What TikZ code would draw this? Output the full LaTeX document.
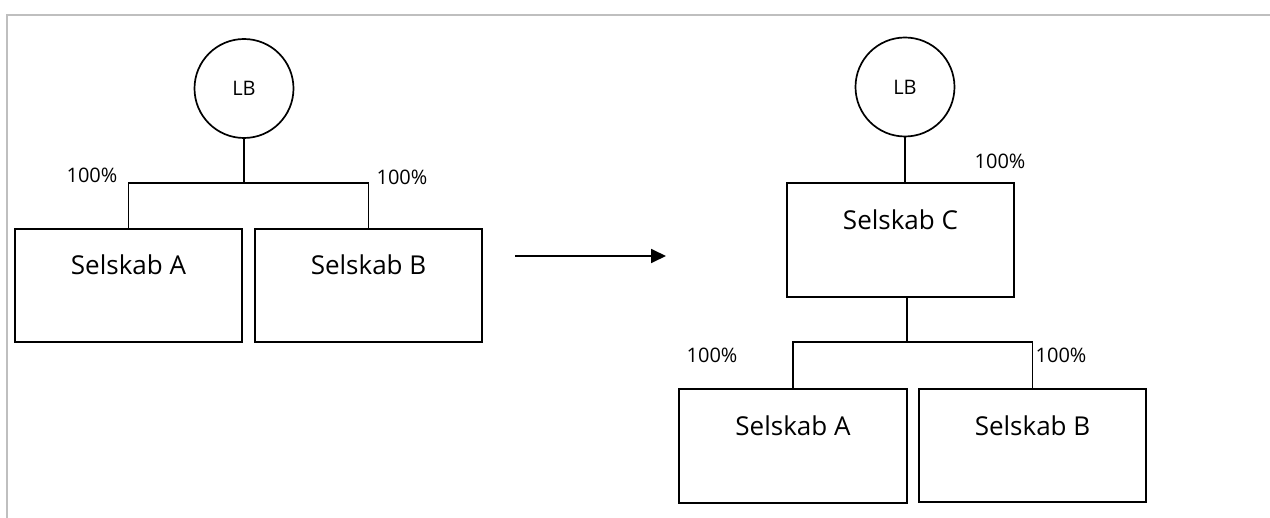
\documentclass[tikz,border=0pt]{standalone}
\usepackage{fontspec}
\setmainfont{Open Sans}
\usetikzlibrary{arrows.meta,calc}
\tikzset{
  frame/.style={draw=black!25, line width=2pt},
  owner/.style={draw, circle, line width=1.7pt, minimum size=99pt, inner sep=0pt,
                font=\fontsize{20}{24}\selectfont},
  company/.style={draw, rectangle, line width=1.8pt, minimum width=227pt,
                  minimum height=113pt, inner sep=0pt},
  cname/.style={anchor=base, font=\fontsize{26}{30}\selectfont, inner sep=0pt},
  share/.style={anchor=base, font=\fontsize{20}{24}\selectfont, inner sep=0pt},
  link/.style={line width=1.7pt},
  move/.style={line width=1.8pt, -{Triangle[length=15pt,width=14pt]}}
}
\begin{document}
\begin{tikzpicture}[x=1pt,y=-1pt]
\useasboundingbox (0,0) rectangle (1270,518);
% page frame
\draw[frame] (7,518) -- (7,15) -- (1270,15);

% --- before: LB owns A and B directly ---
\node[owner] (lb1) at (244,88.5) {LB};
\node[company] (a1) at (128.5,285.5) {};
\node[company] (b1) at (368.5,285.5) {};
\node[cname] (ta1) at ($(a1.north)+(0,46)$) {Selskab A};
\node[cname] (tb1) at ($(b1.north)+(0,46)$) {Selskab B};
\coordinate (bus1) at (244,183);
\draw[link] (lb1.south) -- (bus1);
\draw[link] (a1.north) |- (bus1) -| (b1.north);
\node[share] (p1) at (92,183) {100\%};
\node[share] (p2) at (402,185) {100\%};

% --- transition arrow ---
\coordinate (arrS) at (515,256);
\coordinate (arrE) at (666,256);
\draw[move] (arrS) -- (arrE);

% --- after: LB owns C, which owns A and B ---
\node[owner] (lb2) at (905,87) {LB};
\node[company, minimum height=114pt] (c2) at (900.5,240) {};
\node[cname] (tc2) at ($(c2.north)+(0,47)$) {Selskab C};
\draw[link] (lb2.south) -- (lb2.south |- c2.north);
\node[share] (p3) at (1000,169) {100\%};

\node[company, minimum width=228pt, minimum height=114pt] (a2) at (793,446) {};
\node[company] (b2) at (1032.5,445.5) {};
\node[cname] (ta2) at ($(a2.north)+(0,47)$) {Selskab A};
\node[cname] (tb2) at ($(b2.north)+(0,47)$) {Selskab B};
\coordinate (bus2) at (907,342);
\draw[link] (bus2 |- c2.south) -- (bus2);
\draw[link] (a2.north) |- (bus2) -| (b2.north);
\node[share] (p4) at (712,363) {100\%};
\node[share] (p5) at (1061,363) {100\%};
\end{tikzpicture}
\end{document}
